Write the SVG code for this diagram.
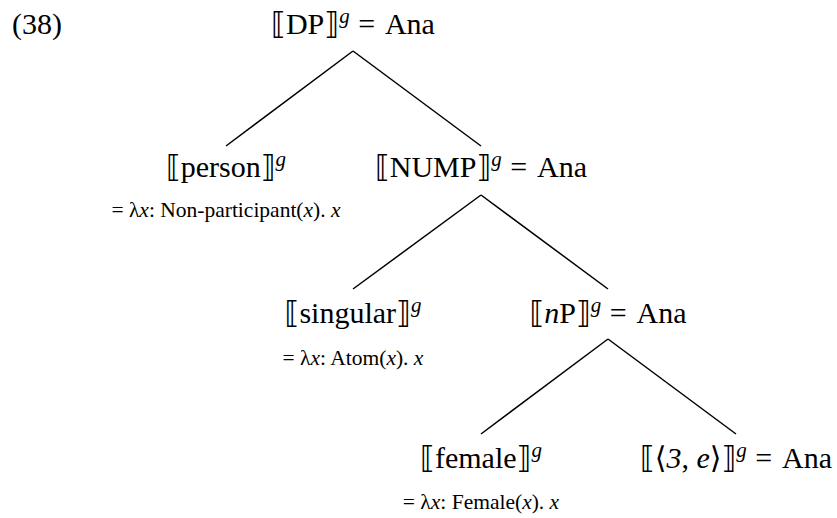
<svg xmlns="http://www.w3.org/2000/svg" width="837" height="518" viewBox="0 0 837 518">
  <style>
    text { font-family: "Liberation Serif", "DejaVu Serif", "DejaVu Sans", serif; fill: #000; }
    .num { font-size: 30px; }
    .node { font-size: 30px; text-anchor: middle; }
    .sup { font-size: 21px; font-style: italic; }
    .it { font-style: italic; }
    .den { font-size: 21.5px; text-anchor: middle; }
    .edge { stroke: #000; stroke-width: 1.5; fill: none; }
  </style>

  <text class="num" x="12" y="34">(38)</text>

  <!-- branches of the tree -->
  <g id="connectors">
    <line class="edge" x1="353" y1="51" x2="226" y2="146"/>
    <line class="edge" x1="353" y1="51" x2="481" y2="146"/>
    <line class="edge" x1="481" y1="195" x2="353" y2="289"/>
    <line class="edge" x1="481" y1="195" x2="608" y2="289"/>
    <line class="edge" x1="608" y1="339" x2="481" y2="434"/>
    <line class="edge" x1="608" y1="339" x2="736" y2="434"/>
  </g>

  <g id="dp">
    <text class="node" x="353" y="34">⟦DP⟧<tspan class="sup" dy="-11">g</tspan><tspan dy="11" dx="1"> = </tspan><tspan dx="4">Ana</tspan></text>
  </g>

  <g id="person">
    <text class="node" x="226" y="177">⟦person⟧<tspan class="sup" dy="-11">g</tspan></text>
    <text class="den" x="226" y="217">= λ<tspan class="it">x</tspan>: Non-participant(<tspan class="it">x</tspan>). <tspan class="it">x</tspan></text>
  </g>

  <g id="nump">
    <text class="node" x="481" y="177">⟦NUMP⟧<tspan class="sup" dy="-11">g</tspan><tspan dy="11" dx="1"> = </tspan><tspan dx="4">Ana</tspan></text>
  </g>

  <g id="singular">
    <text class="node" x="353" y="323">⟦singular⟧<tspan class="sup" dy="-11">g</tspan></text>
    <text class="den" x="353" y="365">= λ<tspan class="it">x</tspan>: Atom(<tspan class="it">x</tspan>). <tspan class="it">x</tspan></text>
  </g>

  <g id="np">
    <text class="node" x="608" y="323">⟦<tspan class="it">n</tspan>P⟧<tspan class="sup" dy="-11">g</tspan><tspan dy="11" dx="1"> = </tspan><tspan dx="4">Ana</tspan></text>
  </g>

  <g id="female">
    <text class="node" x="481" y="468">⟦female⟧<tspan class="sup" dy="-11">g</tspan></text>
    <text class="den" x="481" y="509">= λ<tspan class="it">x</tspan>: Female(<tspan class="it">x</tspan>). <tspan class="it">x</tspan></text>
  </g>

  <g id="pronoun">
    <text class="node" x="736" y="468">⟦⟨<tspan class="it">3</tspan>, <tspan class="it">e</tspan>⟩⟧<tspan class="sup" dy="-11">g</tspan><tspan dy="11" dx="1"> = </tspan><tspan dx="4">Ana</tspan></text>
  </g>
</svg>
